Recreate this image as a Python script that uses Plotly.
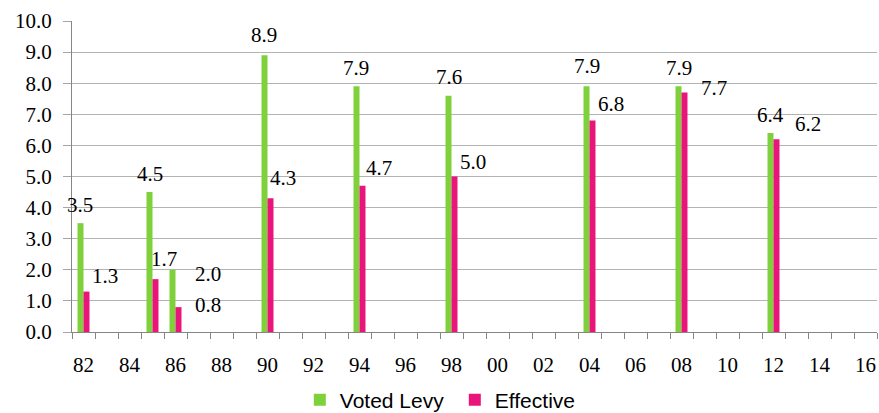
import plotly.graph_objects as go

# Levy history: voted vs. effective rate, by year
years = [1982, 1985, 1986, 1990, 1994, 1998, 2004, 2008, 2012]
voted_levy = [3.5, 4.5, 2.0, 8.9, 7.9, 7.6, 7.9, 7.9, 6.4]
effective = [1.3, 1.7, 0.8, 4.3, 4.7, 5.0, 6.8, 7.7, 6.2]

# x axis runs every year from 1982 to 2016, labelled every other year
axis_years = list(range(1982, 2017))
axis_labels = [f"{y % 100:02d}" for y in axis_years]
tick_text = [lab if (y - 1982) % 2 == 0 else "" for y, lab in zip(axis_years, axis_labels)]

# value-label nudges in pixels (dx, dy of label centre from the bar's top)
voted_label_shift = [(-4, 18), (-3, 18), (32, -4), (-4, 20), (-4, 18), (-3, 19), (-3, 20), (-3, 18), (-3, 18)]
effective_label_shift = [(21, 16), (11, 20), (32, 2), (15, 20), (19, 18), (21, 15), (21, 17), (32, 5), (34, 15)]

GREEN = "#7ED13B"
PINK = "#EA157A"
SERIF = "Liberation Serif"
SANS = "Liberation Sans"


def lab(y):
    return f"{y % 100:02d}"


def pos(y):
    # numeric position of a year on the category axis
    return axis_years.index(y)


fig = go.Figure()
fig.add_trace(go.Bar(x=[lab(y) for y in years], y=voted_levy, name="Voted Levy",
                     marker=dict(color=GREEN, line=dict(width=0))))
fig.add_trace(go.Bar(x=[lab(y) for y in years], y=effective, name="Effective",
                     marker=dict(color=PINK, line=dict(width=0))))

annotations = []
for series, shifts in ((voted_levy, voted_label_shift), (effective, effective_label_shift)):
    for yr, v, (dx, dy) in zip(years, series, shifts):
        annotations.append(dict(x=pos(yr), y=v, text=f"{v:.1f}", showarrow=False,
                                xanchor="center", yanchor="middle", xshift=dx, yshift=dy,
                                font=dict(family=SERIF, size=21, color="#000000")))

fig.update_layout(
    width=879, height=413,
    margin=dict(l=72, r=2, t=21, b=81, autoexpand=False),
    paper_bgcolor="white", plot_bgcolor="white",
    barmode="group", bargap=0.479, bargroupgap=0,
    showlegend=True,
    legend=dict(orientation="h", x=0.283, xanchor="left", y=-0.219, yanchor="middle",
                entrywidth=110,
                font=dict(family=SANS, size=21, color="#000000"),
                itemclick=False),
    annotations=annotations,
    xaxis=dict(type="category", categoryorder="array", categoryarray=axis_labels,
               tickmode="array", tickvals=axis_labels, ticktext=tick_text, tickangle=0,
               tickson="boundaries", ticks="outside", ticklen=6, tickcolor="#868686",
               showline=True, linecolor="#868686", linewidth=1, showgrid=False,
               range=[-0.5, len(axis_labels) - 0.5], ticklabelstandoff=14,
               automargin=False,
               tickfont=dict(family=SERIF, size=21, color="#000000")),
    yaxis=dict(range=[0, 10], tickmode="linear", tick0=0, dtick=1, tickformat=".1f",
               ticks="outside", ticklen=8, tickcolor="#A6A6A6",
               showline=True, linecolor="#868686", linewidth=1,
               showgrid=True, gridcolor="#B3B3B3", gridwidth=1, zeroline=False,
               ticklabelstandoff=7, automargin=False,
               tickfont=dict(family=SERIF, size=21, color="#000000")),
)

fig.write_html("out.html")
